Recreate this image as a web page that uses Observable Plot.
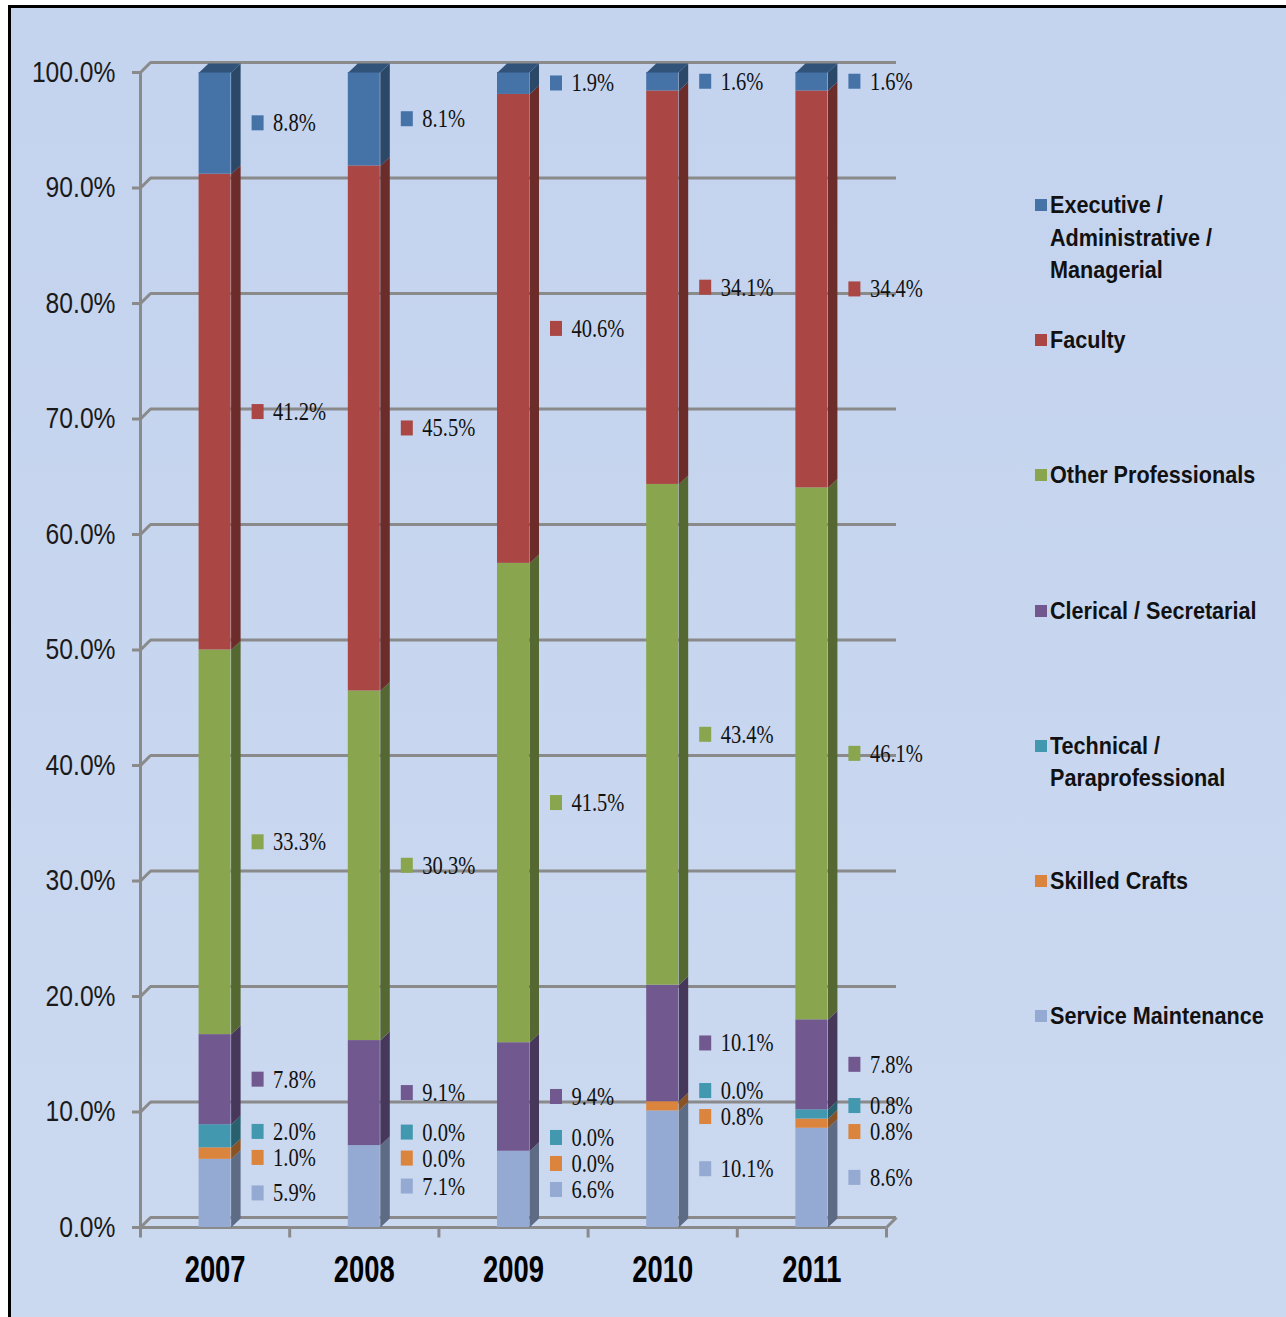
<!DOCTYPE html>
<html>
<head>
<meta charset="utf-8">
<script src="https://cdn.jsdelivr.net/npm/d3@7"></script>
<script src="https://cdn.jsdelivr.net/npm/@observablehq/plot@0.6"></script>
<style>
  html, body { margin: 0; padding: 0; overflow: hidden; background: #fff; width: 1286px; height: 1317px; }
  #frame { position: absolute; left: 8px; top: 5px; width: 1300px; height: 1330px;
           border-left: 3px solid #000; border-top: 3px solid #000;
           background: linear-gradient(#c4d3ee, #cbd9f0); }
  #chart { position: absolute; left: 0; top: 0; }
  #legend { position: absolute; left: 1035px; top: 0; }
  .item { position: absolute; left: 0; width: 260px; }
  .sw { position: absolute; left: 0; top: 10px; width: 12px; height: 12px; }
  .lt { position: absolute; left: 15px; top: 0; width: 250px; font: bold 24px "Liberation Sans", Arial, sans-serif;
        line-height: 32.5px; color: #111; transform: scaleX(0.9); transform-origin: 0 0; }
</style>
</head>
<body>
<div id="frame"></div>
<div id="chart"></div>
<div id="legend"></div>
<script>
// ---- data ----
const years = ["2007", "2008", "2009", "2010", "2011"];
const categories = [
  "Executive / Administrative / Managerial",
  "Faculty",
  "Other Professionals",
  "Clerical / Secretarial",
  "Technical / Paraprofessional",
  "Skilled Crafts",
  "Service Maintenance"
];
const colors = ["#4572A7", "#AA4643", "#89A54E", "#71588F", "#4198AF", "#DB843D", "#94AAD2"];
const executive          = [8.8, 8.1, 1.9, 1.6, 1.6];
const faculty            = [41.2, 45.5, 40.6, 34.1, 34.4];
const otherProfessionals = [33.3, 30.3, 41.5, 43.4, 46.1];
const clerical           = [7.8, 9.1, 9.4, 10.1, 7.8];
const technical          = [2.0, 0.0, 0.0, 0.0, 0.8];
const skilledCrafts      = [1.0, 0.0, 0.0, 0.8, 0.8];
const serviceMaintenance = [5.9, 7.1, 6.6, 10.1, 8.6];
const yTicks = [0, 10, 20, 30, 40, 50, 60, 70, 80, 90, 100];

const series = [executive, faculty, otherProfessionals, clerical, technical, skilledCrafts, serviceMaintenance];

// ---- layout constants (pixels) ----
const W = 1286, H = 1317;
const mL = 140, mR = 400, mT = 72, mB = 90;
const ux = (W - mL - mR) / years.length;   // px per x unit
const uy = (H - mT - mB) / 100;            // px per percent
const hw = 16 / ux;                        // bar half width
const DXb = 9.5 / ux, DYb = 9 / uy;        // bar depth
const DXw = 10 / ux, DYw = 10 / uy;        // wall depth
const gap = 26 / uy;                       // label min gap

// ---- stacking (bottom = Service Maintenance ... top = Executive) ----
const segs = [];
const labels = [];
years.forEach((yr, i) => {
  const total = d3.sum(series, s => s[i]);
  let acc = 0;
  const col = [];
  for (let k = series.length - 1; k >= 0; k--) {
    const v = series[k][i];
    const vn = v / total * 100;
    const s = {i, k, v, c: i + 0.5, y0: acc, y1: acc + vn, color: colors[k]};
    acc += vn;
    segs.push(s);
    col.push({c: i + 0.5, k, ly: (s.y0 + s.y1) / 2, text: d3.format(".1f")(v) + "%", color: colors[k]});
  }
  // relax overlapping labels
  for (let it = 0; it < 200; it++) {
    for (let j = 0; j < col.length - 1; j++) {
      const g = col[j + 1].ly - col[j].ly;
      if (g < gap) { const sh = (gap - g) / 2; col[j].ly -= sh; col[j + 1].ly += sh; }
    }
  }
  labels.push(...col);
});

const shade = (c, k) => d3.color(c).darker(k).formatHex();
const sidePts = [];
segs.filter(s => s.v > 0).forEach(s => {
  const xr = s.c + hw, f = shade(s.color, 1.3), id = "s" + s.i + "-" + s.k;
  sidePts.push({x: xr, y: s.y0, id, fill: f},
               {x: xr + DXb, y: s.y0 + DYb, id, fill: f},
               {x: xr + DXb, y: s.y1 + DYb, id, fill: f},
               {x: xr, y: s.y1, id, fill: f});
});
const topPts = [];
years.forEach((yr, i) => {
  const top = segs.filter(s => s.i === i && s.v > 0).reduce((a, b) => (b.y1 > a.y1 ? b : a));
  const xl = top.c - hw, xr = top.c + hw, f = shade(top.color, 0.9), id = "t" + i;
  topPts.push({x: xl, y: top.y1, id, fill: f},
              {x: xl + DXb, y: top.y1 + DYb, id, fill: f},
              {x: xr + DXb, y: top.y1 + DYb, id, fill: f},
              {x: xr, y: top.y1, id, fill: f});
});

const gridC = "#8a8a8a";
const bounds = d3.range(years.length + 1);

const plot = Plot.plot({
  width: W, height: H,
  marginLeft: mL, marginRight: mR, marginTop: mT, marginBottom: mB,
  x: {domain: [0, years.length], axis: null},
  y: {domain: [0, 100], axis: null},
  color: {type: "identity"},
  style: {background: "none", overflow: "visible", fontFamily: "'Liberation Sans', Arial, sans-serif"},
  marks: [
    // back wall gridlines
    Plot.ruleY(yTicks, {y: d => d + DYw, x1: DXw, x2: years.length + DXw, stroke: gridC, strokeWidth: 3}),
    Plot.link(yTicks, {x1: 0, y1: d => d, x2: DXw, y2: d => d + DYw, stroke: gridC, strokeWidth: 3}),
    Plot.link([years.length], {x1: d => d, y1: 0, x2: d => d + DXw, y2: DYw, stroke: gridC, strokeWidth: 3}),
    // axes
    Plot.ruleX([0], {y1: 0, y2: 100, stroke: gridC, strokeWidth: 3}),
    Plot.ruleY(yTicks, {x1: -8 / ux, x2: 0, stroke: gridC, strokeWidth: 3}),
    Plot.ruleY([0], {x1: -8 / ux, x2: years.length, stroke: gridC, strokeWidth: 3}),
    Plot.link(bounds, {x1: d => d, x2: d => d, y1: 0, y2: -10 / uy, stroke: gridC, strokeWidth: 3}),
    // bars
    Plot.rect(segs.filter(s => s.v > 0), {x1: s => s.c - hw, x2: s => s.c + hw, y1: "y0", y2: "y1", fill: "color"}),
    Plot.line(sidePts, {x: "x", y: "y", z: "id", fill: "fill", stroke: "none"}),
    Plot.line(topPts, {x: "x", y: "y", z: "id", fill: "fill", stroke: "none"}),
    // data labels
    Plot.rect(labels, {x1: d => d.c + 37 / ux, x2: d => d.c + 49 / ux, y1: d => d.ly - 7.5 / uy, y2: d => d.ly + 7.5 / uy, fill: "color"}),
    Plot.text(labels, {x: "c", y: "ly", text: "text", dx: 58, textAnchor: "start", fontSize: 25,
                       fontFamily: "'Liberation Serif', 'Times New Roman', serif", fill: "#111"}),
    // y tick labels
    Plot.text(yTicks, {x: 0, y: d => d, text: d => d.toFixed(1) + "%", dx: -25, textAnchor: "end", fontSize: 29,
                       fill: "#1a1a1a"}),
    // year labels
    Plot.text(years, {x: (d, i) => i + 0.5, y: 0, dy: 43, text: d => d, fontSize: 36, fontWeight: "bold",
                      fill: "#000"})
  ]
});
document.getElementById("chart").appendChild(plot);

function squeeze(group, k) {
  if (!group) return;
  group.querySelectorAll("text").forEach(t => {
    const L = t.getComputedTextLength();
    if (L > 0) {
      t.setAttribute("textLength", (L * k).toFixed(2));
      t.setAttribute("lengthAdjust", "spacingAndGlyphs");
    }
  });
}
const textGroups = plot.querySelectorAll('g[aria-label="text"]');
squeeze(textGroups[0], 0.82);  // data labels
squeeze(textGroups[1], 0.85);  // y tick labels
squeeze(textGroups[2], 0.76);  // year labels

// ---- legend ----
const legend = document.getElementById("legend");
categories.forEach((name, k) => {
  const item = document.createElement("div");
  item.className = "item";
  item.style.top = (189 + k * 135.2) + "px";
  const sw = document.createElement("span");
  sw.className = "sw";
  sw.style.background = colors[k];
  const lt = document.createElement("span");
  lt.className = "lt";
  lt.textContent = name;
  item.appendChild(sw);
  item.appendChild(lt);
  legend.appendChild(item);
});
</script>
</body>
</html>
